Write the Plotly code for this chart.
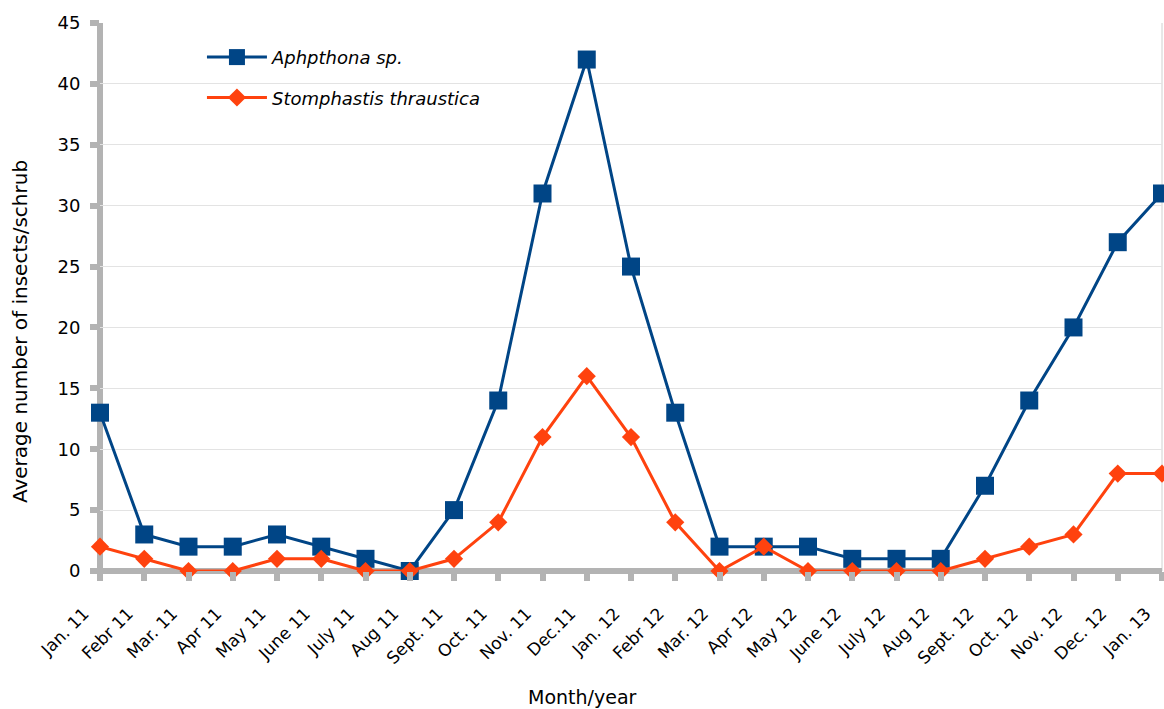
import plotly.graph_objects as go

months = ["Jan. 11", "Febr 11", "Mar. 11", "Apr 11", "May 11", "June 11", "July 11", "Aug 11",
          "Sept. 11", "Oct. 11", "Nov. 11", "Dec.11", "Jan. 12", "Febr 12", "Mar. 12", "Apr 12",
          "May 12", "June 12", "July 12", "Aug 12", "Sept. 12", "Oct. 12", "Nov. 12", "Dec. 12", "Jan. 13"]
aphpthona = [13, 3, 2, 2, 3, 2, 1, 0, 5, 14, 31, 42, 25, 13, 2, 2, 2, 1, 1, 1, 7, 14, 20, 27, 31]
stomphastis = [2, 1, 0, 0, 1, 1, 0, 0, 1, 4, 11, 16, 11, 4, 0, 2, 0, 0, 0, 0, 1, 2, 3, 8, 8]
y_ticks = [0, 5, 10, 15, 20, 25, 30, 35, 40, 45]

xs = list(range(len(months)))
FONT = "DejaVu Sans"
GRAY = "#b3b3b3"

fig = go.Figure()
fig.add_trace(go.Scatter(
    x=xs, y=aphpthona, mode="lines+markers", name="<i>Aphpthona sp.</i>",
    line=dict(color="#004586", width=3),
    marker=dict(symbol="square", size=18, color="#004586"),
    legendgroup="a", cliponaxis=False))
fig.add_trace(go.Scatter(
    x=xs, y=stomphastis, mode="lines+markers", name="<i>Stomphastis thraustica</i>",
    line=dict(color="#ff420e", width=3),
    marker=dict(symbol="diamond", size=14, color="#ff420e"),
    legendgroup="b", cliponaxis=False))

fig.update_layout(
    width=1164, height=709,
    margin=dict(l=100, r=2, t=23, b=138),
    paper_bgcolor="white", plot_bgcolor="white",
    font=dict(family=FONT, size=18, color="black"),
    showlegend=True,
    legend=dict(x=0.096, y=0.971, xanchor="left", yanchor="top",
                bgcolor="rgba(0,0,0,0)", font=dict(family=FONT, size=18),
                itemwidth=60, traceorder="grouped", tracegroupgap=14),
    xaxis=dict(range=[0, len(months) - 1], tickmode="array", tickvals=xs, ticktext=months,
               tickangle=-45, showgrid=False, zeroline=False, showline=False,
               ticks="outside", ticklen=9, tickwidth=6, tickcolor=GRAY,
               ticklabelshift=-16, ticklabelstandoff=16,
               tickfont=dict(family=FONT, size=17)),
    yaxis=dict(range=[0, 45], tickmode="array", tickvals=y_ticks,
               showgrid=True, gridcolor="#e3e3e3", gridwidth=1, zeroline=False, showline=False,
               ticks="outside", ticklen=9, tickwidth=6, tickcolor=GRAY,
               ticklabelstandoff=6,
               tickfont=dict(family=FONT, size=18)),
    annotations=[
        dict(text="Average number of insects/schrub", xref="paper", yref="paper",
             x=-0.0753, y=0.436, textangle=-90, showarrow=False,
             font=dict(family=FONT, size=20), xanchor="center", yanchor="middle"),
        dict(text="Month/year", xref="paper", yref="paper",
             x=0.454, y=-0.23, showarrow=False,
             font=dict(family=FONT, size=19), xanchor="center", yanchor="middle"),
    ],
    shapes=[
        dict(type="line", xref="paper", yref="paper", x0=1, x1=1, y0=0, y1=1,
             line=dict(color="#d0d0d0", width=1), layer="below"),
        dict(type="line", xref="paper", yref="paper", x0=-0.0085, x1=1, y0=0, y1=0,
             line=dict(color=GRAY, width=6), layer="below"),
        dict(type="line", xref="paper", yref="paper", x0=0, x1=0, y0=-0.005, y1=1.0,
             line=dict(color=GRAY, width=6), layer="below"),
    ],
)

fig.write_html("out.html", config={"displayModeBar": False},
               post_script="document.body.style.margin='0';document.body.style.overflow='hidden';")
